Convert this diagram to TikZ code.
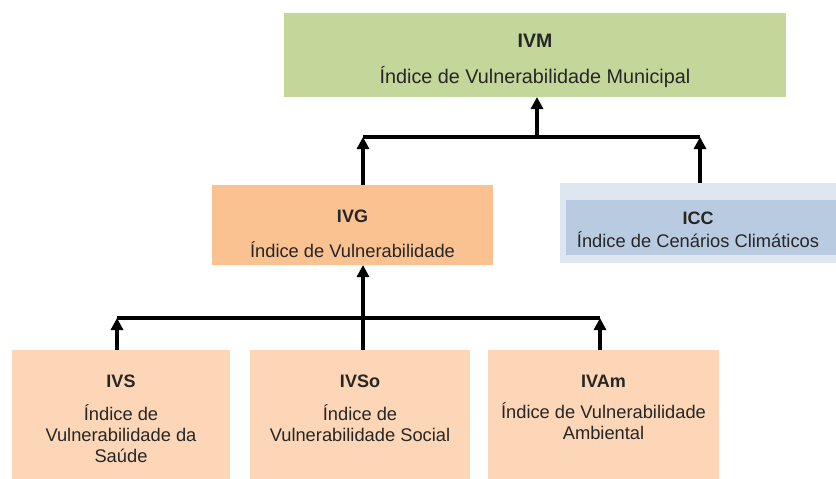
\documentclass[tikz,border=0pt]{standalone}
\usepackage{fontspec}
\setmainfont{Liberation Sans}
\usepackage{xcolor}
\usetikzlibrary{positioning, calc, arrows.meta}

\definecolor{ivmgreen}{HTML}{C4D79B}
\definecolor{ivgorange}{HTML}{FAC191}
\definecolor{subpeach}{HTML}{FCD6B6}
\definecolor{iccblue}{HTML}{B9CBE0}
\definecolor{iccpale}{HTML}{DEE6F0}
\definecolor{inkdark}{HTML}{262626}

\tikzset{
  box/.style={inner sep=0pt, outer sep=0pt, draw=none},
  ttl/.style={anchor=base, inner sep=0pt, text=inkdark, font=\bfseries\fontsize{18}{21}\selectfont},
  txt/.style={anchor=base, inner sep=0pt, text=inkdark, align=center, font=\fontsize{18.3}{21}\selectfont},
  link/.style={line width=3.2pt},
  uparrow/.style={link, -{Triangle[length=12pt,width=12pt]}}
}

\begin{document}
\begin{tikzpicture}[x=1pt, y=-1pt]

    \useasboundingbox (0,0) rectangle (836,479);

    % --- TOP LEVEL ---
    % municipal index
    \node[box, fill=ivmgreen, minimum width=502pt, minimum height=84pt] (ivm) at (535,55) {};
    \node[ttl, font=\bfseries\fontsize{19.5}{22}\selectfont] (ivmT) at (535,47) {IVM};
    \node[txt, font=\fontsize{19.8}{22}\selectfont] (ivmS) at (535,83) {Índice de Vulnerabilidade Municipal};

    % --- MIDDLE LEVEL ---
    % general vulnerability
    \node[box, fill=ivgorange, minimum width=281pt, minimum height=80pt] (ivg) at (352.5,225) {};
    \node[ttl] (ivgT) at (352.5,222) {IVG};
    \node[txt] (ivgS) at (352.5,257) {Índice de Vulnerabilidade};

    % climate scenarios (pale frame + inner panel)
    \node[box, fill=iccpale, minimum width=276pt, minimum height=80pt] (iccout) at (698,223) {};
    \node[box, fill=iccblue, minimum width=270pt, minimum height=55pt] (icc) at (701,227.5) {};
    \node[ttl] (iccT) at (698,224) {ICC};
    \node[txt] (iccS) at (698,247) {Índice de Cenários Climáticos};

    % --- BOTTOM LEVEL ---
    % multi-line texts sit on their last baseline
    \node[box, fill=subpeach, minimum width=218pt, minimum height=129pt] (ivs) at (121,414.5) {};
    \node[ttl] (ivsT) at (121,387) {IVS};
    \node[txt] (ivsS) at (121,462) {Índice de\\Vulnerabilidade da\\Saúde};

    \node[box, fill=subpeach, minimum width=220pt, minimum height=129pt] (ivso) at (360,414.5) {};
    \node[ttl] (ivsoT) at (360,387) {IVSo};
    \node[txt] (ivsoS) at (360,441) {Índice de\\Vulnerabilidade Social};

    \node[box, fill=subpeach, minimum width=231pt, minimum height=129pt] (ivam) at (603.5,414.5) {};
    \node[ttl] (ivamT) at (603.5,387) {IVAm};
    \node[txt] (ivamS) at (603.5,439) {Índice de Vulnerabilidade\\Ambiental};

    % --- UPPER JOIN ---
    \coordinate (tl) at (363,137);
    \coordinate (tm) at (537,137);
    \coordinate (tr) at (700,137);
    \draw[link] (tl) -- (tr);
    \draw[uparrow] (tm) -- (tm |- ivm.south);
    \draw[uparrow] (tl |- ivg.north) -- (tl);
    \draw[uparrow] (tr |- iccout.north) -- (tr);

    % --- LOWER JOIN ---
    \coordinate (bl) at (117,318);
    \coordinate (bm) at (363,318);
    \coordinate (br) at (600,318);
    \draw[link] (bl) -- (br);
    \draw[uparrow] (bm |- ivso.north) -- (bm |- ivg.south);
    \draw[uparrow] (bl |- ivs.north) -- (bl);
    \draw[uparrow] (br |- ivam.north) -- (br);

\end{tikzpicture}
\end{document}
